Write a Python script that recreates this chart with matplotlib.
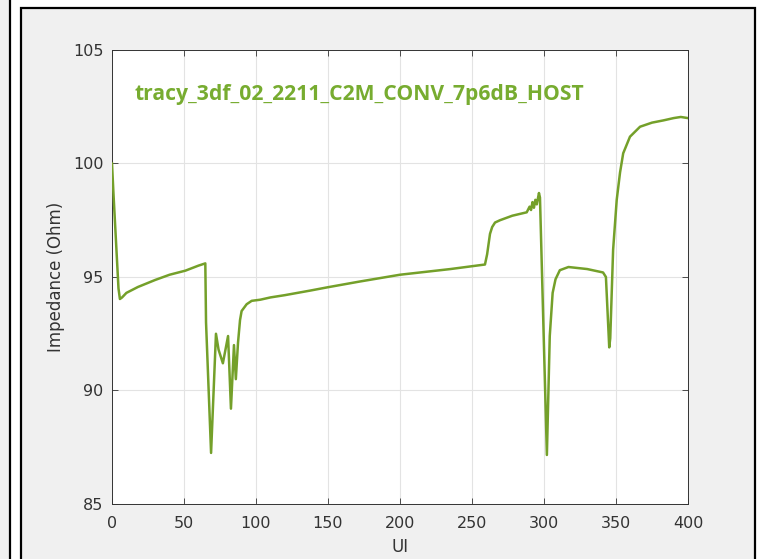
import matplotlib
matplotlib.use("Agg")
import matplotlib.pyplot as plt
from matplotlib.patches import Rectangle

# values
ui = [0, 1, 4.5, 5.5, 7, 10, 18, 30, 40, 51, 60, 64.8, 65.3, 68.8,
      72.2, 74, 77, 80.6, 82.6, 84.7, 86, 87.5, 88.9, 90, 93.5, 97, 103,
      110, 120, 137.5, 150, 172, 200, 235, 259, 260.5, 262.5, 264, 266,
      269.4, 278, 288, 290, 291, 292, 293, 294, 295, 296.5, 297.2, 302,
      304, 306, 308, 311, 317, 330, 341, 343, 345.3, 346, 348, 350.5,
      352.8, 355, 359.7, 366.7, 375, 383, 390, 395, 400]
impedance = [100.0, 98.7, 94.5, 94.03, 94.1, 94.3, 94.56, 94.87, 95.1, 95.28,
             95.5, 95.6, 93.0, 87.25,
             92.5, 91.8, 91.2, 92.4, 89.2, 92.0, 90.5, 92.1, 93.1, 93.5, 93.8,
             93.95, 94.0,
             94.1, 94.2, 94.4, 94.55, 94.8, 95.1, 95.35, 95.55, 96.0, 96.9,
             97.2, 97.4,
             97.5, 97.7, 97.85, 98.1, 97.95, 98.3, 98.05, 98.4, 98.2, 98.7,
             98.5, 87.16,
             92.4, 94.3, 94.9, 95.3, 95.44, 95.35, 95.2, 95.0, 91.9, 92.3,
             96.2, 98.4,
             99.6, 100.45, 101.18, 101.62, 101.8, 101.9, 102.0, 102.05, 102.0]

title_text = "tracy_3df_02_2211_C2M_CONV_7p6dB_HOST"
x_ticks = [0, 50, 100, 150, 200, 250, 300, 350, 400]
y_ticks = [85, 90, 95, 100, 105]

green = "#77AC30"
line_green = "#74A02A"
axis_col = "#333333"

fig = plt.figure(figsize=(7.67, 5.59), dpi=100, facecolor="white")

# panel frames (gray MATLAB-like figure windows)
fig.add_artist(Rectangle((-0.1, -0.1), 0.1 + 10 / 767, 1.3,
                         transform=fig.transFigure, facecolor="#f0f0f0",
                         edgecolor="black", linewidth=1.6, zorder=0))
fig.add_artist(Rectangle((21 / 767, -0.1), (755 - 21) / 767, 0.1 + 551 / 559,
                         transform=fig.transFigure, facecolor="#f0f0f0",
                         edgecolor="black", linewidth=1.6, zorder=0))

ax = fig.add_axes([112 / 767, 55 / 559, 576 / 767, 454 / 559])
ax.set_facecolor("white")
ax.plot(ui, impedance, color=line_green, linewidth=1.8, zorder=3)

ax.set_xlim(0, 400)
ax.set_ylim(85, 105)
ax.set_xticks(x_ticks)
ax.set_yticks(y_ticks)
ax.grid(True, color="#e3e3e3", linewidth=0.8)
ax.tick_params(direction="in", length=4, width=0.6, colors=axis_col,
               labelsize=11.5, top=True, right=True)
ax.tick_params(axis="x", pad=9)
ax.tick_params(axis="y", pad=6)
for s in ax.spines.values():
    s.set_color(axis_col)
    s.set_linewidth(0.7)

ax.set_xlabel("UI", fontsize=12, color=axis_col, labelpad=5)
ax.set_ylabel("Impedance (Ohm)", fontsize=12, color=axis_col, labelpad=6)

ax.text(0.43, 0.901, title_text, transform=ax.transAxes, ha="center",
        va="center", color=green, fontsize=15.2, fontweight="bold",
        family="Open Sans")

fig.savefig("out.png", dpi=100, facecolor=fig.get_facecolor())
